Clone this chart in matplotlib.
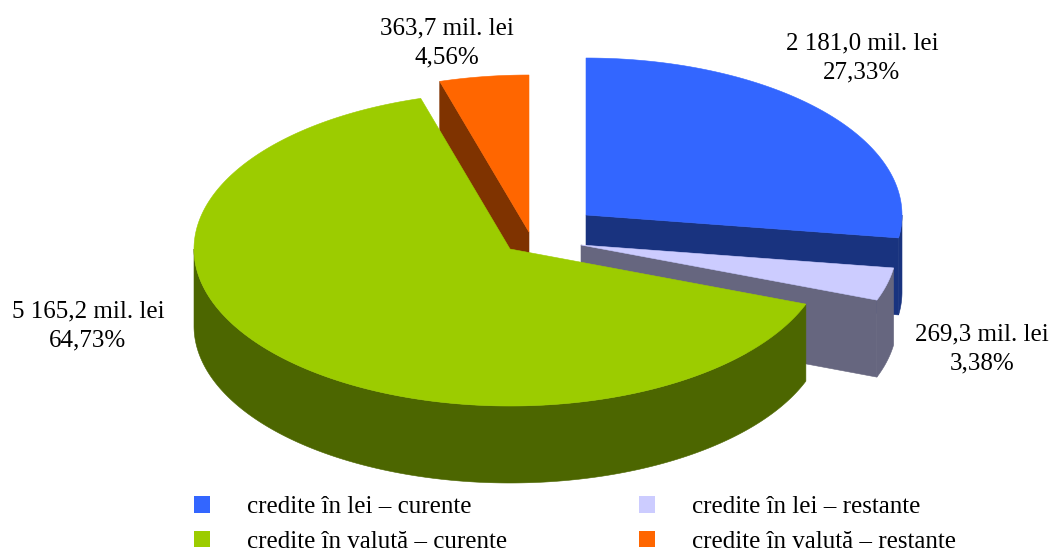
import numpy as np
import matplotlib
matplotlib.use("Agg")
import matplotlib.pyplot as plt
from matplotlib.patches import Polygon, Patch

# --- data ---
categories = ["credite în lei – curente", "credite în lei – restante",
              "credite în valută – curente", "credite în valută – restante"]
values = [2181.0, 269.3, 5165.2, 363.7]
percent_labels = ["27,33%", "3,38%", "64,73%", "4,56%"]
value_labels = ["2 181,0 mil. lei", "269,3 mil. lei", "5 165,2 mil. lei", "363,7 mil. lei"]

# --- style / layout ---
top_colors = ["#3366FF", "#CCCCFF", "#9CCC00", "#FF6600"]
wall_colors = ["#19337F", "#66667F", "#4C6600", "#7F3300"]
centers = [(586, 215), (581, 245), (510, 249), (529, 232)]
label_pos = [(862, 58), (982, 349), (88, 326), (447, 43)]
RX, RY, DEPTH = 316, 157, 77
FS = 18.0
FAMILY = ["Liberation Serif", "DejaVu Serif"]

fig = plt.figure(figsize=(10.52, 5.53), dpi=100)
ax = fig.add_axes([0, 0, 1, 1])
ax.set_xlim(0, 1052)
ax.set_ylim(553, 0)
ax.axis("off")

def rim(c, a0, a1):
    t = np.radians(np.linspace(a0, a1, max(int(abs(a1 - a0)) * 2, 2)))
    return np.column_stack([c[0] + RX * np.sin(t), c[1] - RY * np.cos(t)])

def draw_wedge(i, a0, a1, z):
    c = np.array(centers[i], float)
    pts = rim(c, a0, a1)
    down = np.array([0, DEPTH])
    wall = dict(fc=wall_colors[i], ec=wall_colors[i], lw=0.4, zorder=z)
    faces = []
    if 180 < a0 < 360:          # start cut faces the viewer
        faces.append(pts[0])
    if 0 < a1 < 180:            # end cut faces the viewer
        faces.append(pts[-1])
    for p in faces:
        ax.add_patch(Polygon(np.array([c, p, p + down, c + down]), closed=True, **wall))
    lo, hi = max(a0, 90), min(a1, 270)
    if hi > lo:
        r = rim(c, lo, hi)
        ax.add_patch(Polygon(np.vstack([r, (r + down)[::-1]]), closed=True, **wall))
    ax.add_patch(Polygon(np.vstack([[c], pts]), closed=True, fc=top_colors[i],
                         ec=top_colors[i], lw=0.4, zorder=z + 0.5))

starts = np.cumsum([0] + values[:-1]) / sum(values) * 360
ends = np.cumsum(values) / sum(values) * 360
for z, i in enumerate([3, 0, 1, 2]):
    draw_wedge(i, starts[i], ends[i], z + 1)

for i in range(4):
    ax.text(*label_pos[i], f"{value_labels[i]}\n{percent_labels[i]}", ha="center", va="center",
            fontsize=FS, family=FAMILY, linespacing=1.4, color="black", zorder=10)

fs_px = FS * 100 / 72
order = [0, 2, 1, 3]
handles = [Patch(fc=top_colors[i], ec="none", label=categories[i]) for i in order]
leg = ax.legend(handles=handles, ncol=2, frameon=False, loc="lower left",
                bbox_to_anchor=(194 / 1052, 0 / 553), bbox_transform=fig.transFigure,
                prop={"family": FAMILY, "size": FS}, borderpad=0, borderaxespad=0,
                handlelength=16 / fs_px, handleheight=16 / fs_px,
                handletextpad=37 / fs_px, columnspacing=132 / fs_px, labelspacing=0.5)
fig.savefig("out.png", dpi=100)
